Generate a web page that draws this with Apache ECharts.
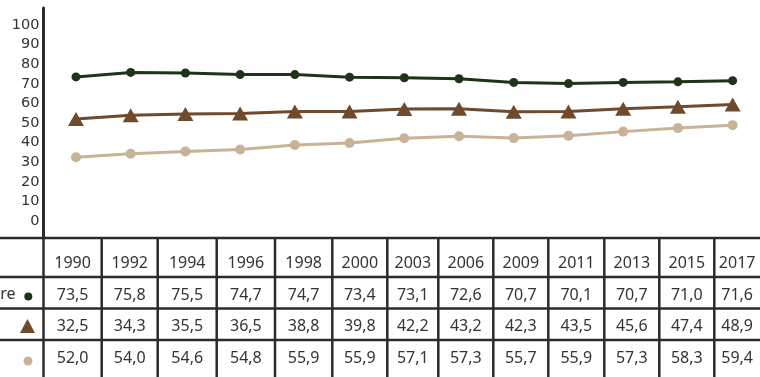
<!DOCTYPE html>
<html>
<head>
<meta charset="utf-8">
<script src="https://cdn.jsdelivr.net/npm/echarts@6/dist/echarts.min.js"></script>
<style>
  html, body { margin: 0; padding: 0; background: #fff; }
  #chart { width: 760px; height: 377px; }
</style>
</head>
<body>
<div id="chart"></div>
<script>
// Survey years (evenly spaced on the category axis)
const years = ['1990', '1992', '1994', '1996', '1998', '2000', '2003', '2006', '2009', '2011', '2013', '2015', '2017'];

// Series values
const greenValues = [73.5, 75.8, 75.5, 74.7, 74.7, 73.4, 73.1, 72.6, 70.7, 70.1, 70.7, 71.0, 71.6];
const tanValues = [32.5, 34.3, 35.5, 36.5, 38.8, 39.8, 42.2, 43.2, 42.3, 43.5, 45.6, 47.4, 48.9];
const brownValues = [52.0, 54.0, 54.6, 54.8, 55.9, 55.9, 57.1, 57.3, 55.7, 55.9, 57.3, 58.3, 59.4];

// Y-axis tick labels
const yTicks = [0, 10, 20, 30, 40, 50, 60, 70, 80, 90, 100];

// Table rows, in the order they are listed under the chart
const tableRows = [greenValues, tanValues, brownValues];
const rowLabel = 're';

// Colours
const GREEN = '#1e3419';
const BROWN = '#6f4a2d';
const TAN = '#c8b397';
const INK = '#2b2b2b';

// Table layout (pixels)
const colEdges = [43.5, 101.7, 157.7, 216.7, 275, 332.3, 387.3, 438.3, 493.3, 548.3, 604.3, 659.3, 714.3, 760];
const rowEdges = [238, 277, 308.5, 340, 377];

const chart = echarts.init(document.getElementById('chart'), null, { renderer: 'canvas' });

const fmt = v => v.toFixed(1).replace('.', ',');

function tableGraphics() {
  const g = [];
  const lineStyle = { stroke: INK, lineWidth: 2.5 };
  // horizontal rules
  for (let r = 0; r < rowEdges.length - 1; r++) {
    g.push({ type: 'line', shape: { x1: 0, y1: rowEdges[r], x2: 760, y2: rowEdges[r] }, style: lineStyle, z: 10 });
  }
  // vertical rules
  for (let c = 0; c < colEdges.length - 1; c++) {
    g.push({ type: 'line', shape: { x1: colEdges[c], y1: rowEdges[0], x2: colEdges[c], y2: 377 }, style: lineStyle, z: 10 });
  }
  const textStyle = (x, y, s) => ({
    type: 'text', x: x, y: y, z: 11,
    style: { text: s, fill: '#333', font: '16px "Noto Sans"', align: 'center', verticalAlign: 'middle' }
  });
  // header row with years
  years.forEach((yr, i) => {
    const cx = (colEdges[i] + colEdges[i + 1]) / 2;
    g.push(textStyle(cx, 263, yr));
  });
  // value rows
  const rowCentres = [295, 326.5, 358.5];
  tableRows.forEach((vals, r) => {
    vals.forEach((v, i) => {
      const cx = (colEdges[i] + colEdges[i + 1]) / 2;
      g.push(textStyle(cx, rowCentres[r], fmt(v)));
    });
  });
  // row keys in the first column
  g.push({
    type: 'text', x: 15.5, y: 294, z: 11,
    style: { text: rowLabel, fill: '#333', font: '16px "Noto Sans"', align: 'right', verticalAlign: 'middle' }
  });
  g.push({ type: 'circle', shape: { cx: 28.3, cy: 296.5, r: 4 }, style: { fill: GREEN }, z: 11 });
  g.push({ type: 'polygon', shape: { points: [[27.5, 319], [20, 333], [35, 333]] }, style: { fill: BROWN }, z: 11 });
  g.push({ type: 'circle', shape: { cx: 28, cy: 361, r: 4.5 }, style: { fill: TAN }, z: 11 });
  return g;
}

chart.setOption({
  animation: false,
  backgroundColor: '#fff',
  grid: { left: 48.6, top: 8, width: 713.2, height: 230, containLabel: false },
  xAxis: {
    type: 'category',
    data: years,
    boundaryGap: true,
    show: false
  },
  yAxis: {
    type: 'value',
    min: -8.67,
    max: 108.67,
    offset: 5.1,
    splitLine: { show: false },
    axisLine: { show: true, lineStyle: { color: INK, width: 3 } },
    axisTick: { show: false },
    axisLabel: {
      customValues: yTicks,
      color: '#333',
      fontFamily: 'DejaVu Sans',
      fontSize: 14.5,
      margin: 4
    }
  },
  series: [
    {
      type: 'line', data: greenValues,
      symbol: 'circle', symbolSize: 9,
      lineStyle: { color: GREEN, width: 3 },
      itemStyle: { color: GREEN }
    },
    {
      type: 'line', data: brownValues,
      symbol: 'triangle', symbolSize: [16, 14],
      lineStyle: { color: BROWN, width: 3 },
      itemStyle: { color: BROWN }
    },
    {
      type: 'line', data: tanValues,
      symbol: 'circle', symbolSize: 10,
      lineStyle: { color: TAN, width: 3 },
      itemStyle: { color: TAN }
    }
  ],
  graphic: tableGraphics()
});
</script>
</body>
</html>
